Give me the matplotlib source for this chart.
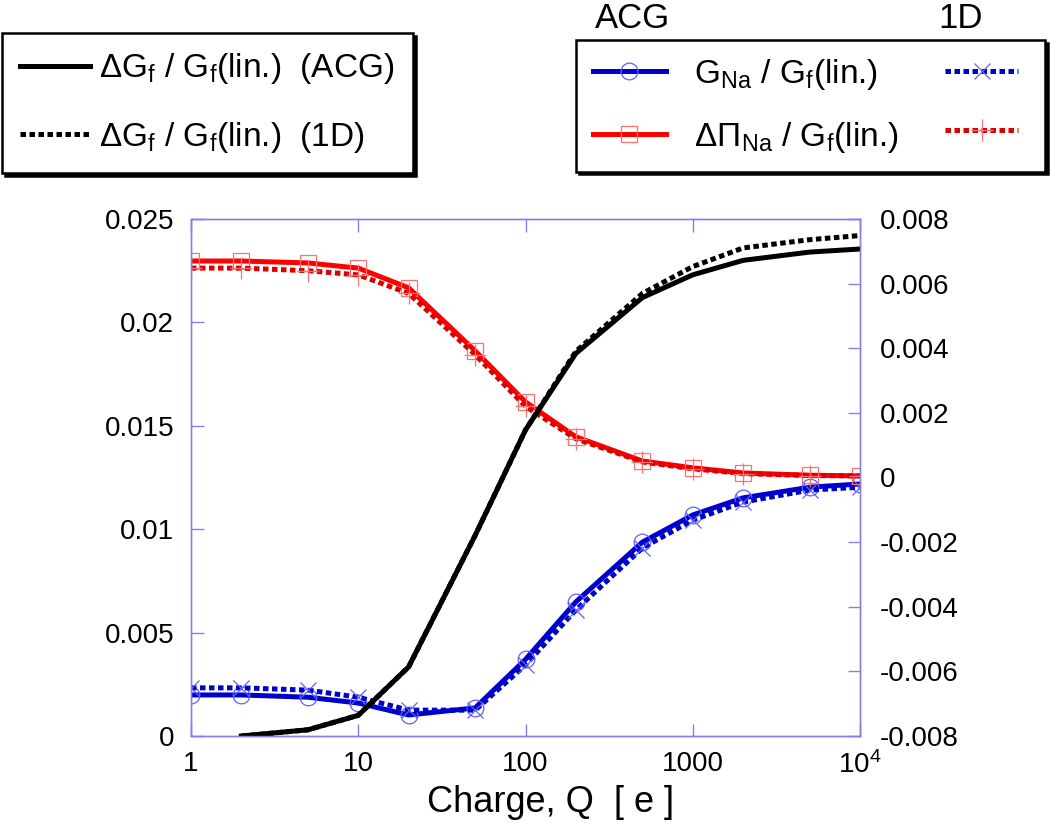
import numpy as np
import matplotlib
matplotlib.use("Agg")
import matplotlib.pyplot as plt
from matplotlib.ticker import NullLocator, FixedLocator

plt.rcParams['font.family'] = ['Liberation Sans', 'DejaVu Sans']
plt.rcParams['mathtext.fontset'] = 'custom'
plt.rcParams['mathtext.rm'] = 'Liberation Sans'
plt.rcParams['mathtext.it'] = 'Liberation Sans'
plt.rcParams['axes.unicode_minus'] = False

# charge values (x)
Q = [1, 2, 5, 10, 20, 50, 100, 200, 500, 1000, 2000, 5000, 10000]
Q_dG = [2, 5, 10, 20, 50, 100, 200, 500, 1000, 2000, 5000, 10000]

# left axis: dG_f / G_f(lin.)
dG_acg = [0.0, 0.0003, 0.001, 0.00334, 0.0097, 0.0148, 0.0185, 0.0212, 0.0223, 0.0230, 0.0234, 0.02355]
dG_1d = [0.0, 0.0003, 0.001, 0.00334, 0.0097, 0.0148, 0.0186, 0.0214, 0.0227, 0.0236, 0.0240, 0.0242]

# right axis: G_Na / G_f(lin.)
gna_acg = [-0.00673, -0.00673, -0.0068, -0.00698, -0.00735, -0.00713, -0.00563, -0.00385,
           -0.0020, -0.00116, -0.00063, -0.0003, -0.0002]
gna_1d = [-0.00651, -0.00651, -0.00658, -0.0068, -0.0072, -0.0072, -0.0058, -0.0041,
          -0.00218, -0.00132, -0.00076, -0.00039, -0.0003]

# right axis: dPi_Na / G_f(lin.)
pi_acg = [0.0067, 0.0067, 0.00664, 0.00648, 0.00587, 0.00392, 0.00234, 0.00126,
          0.00051, 0.0003, 0.00014, 0.00007, 0.00005]
pi_1d = [0.00648, 0.00648, 0.0064, 0.00627, 0.0057, 0.0038, 0.0022, 0.0012,
         0.00048, 0.00027, 0.00012, 0.00006, 0.00005]

xticks = [1, 10, 100, 1000, 10000]
xticklabels = ['1', '10', '100', '1000', '10$^4$']
yticks_l = [0, 0.005, 0.01, 0.015, 0.02, 0.025]
yticklabels_l = ['0', '0.005', '0.01', '0.015', '0.02', '0.025']
yticks_r = [-0.008, -0.006, -0.004, -0.002, 0, 0.002, 0.004, 0.006, 0.008]
yticklabels_r = ['-0.008', '-0.006', '-0.004', '-0.002', '0', '0.002', '0.004', '0.006', '0.008']

frame_c = '#8080f0'
blue = '#0000cc'
blue_m = '#6060ff'
red = '#ff0000'
red_d = '#dd0000'
red_m = '#ff7070'

fig = plt.figure(figsize=(10.5, 8.32), dpi=100)
ax = fig.add_axes([191/1050, 1-736/832, (860-191)/1050, (736-219)/832])
ax2 = ax.twinx()

lw = 3.6
dash = (0, (1.1, 0.7))

l_gna_acg, = ax2.plot(Q, gna_acg, color=blue, lw=lw, marker='o', ms=12, mfc='none',
                      mec=blue_m, mew=0.9)
l_gna_1d, = ax2.plot(Q, gna_1d, color=blue, lw=lw, ls=dash, marker='x', ms=12,
                     mec=blue_m, mew=0.9)
l_pi_acg, = ax2.plot(Q, pi_acg, color=red, lw=lw, marker='s', ms=12, mfc='none',
                     mec=red_m, mew=0.9)
l_pi_1d, = ax2.plot(Q, pi_1d, color=red_d, lw=lw, ls=dash, marker='+', ms=16,
                    mec=red_m, mew=0.9)

l_dg_1d, = ax.plot(Q_dG, dG_1d, color='black', lw=lw, ls=dash)
l_dg_acg, = ax.plot(Q_dG, dG_acg, color='black', lw=lw)

ax.set_zorder(ax2.get_zorder() + 1)
ax.patch.set_visible(False)

ax.set_xscale('log')
ax.set_xlim(1, 10000)
ax.xaxis.set_major_locator(FixedLocator(xticks))
ax.xaxis.set_minor_locator(NullLocator())
ax.set_xticklabels(xticklabels)
ax2.xaxis.set_minor_locator(NullLocator())
ax.set_ylim(0, 0.025)
ax.set_yticks(yticks_l)
ax.set_yticklabels(yticklabels_l)
ax2.set_ylim(-0.008, 0.008)
ax2.set_yticks(yticks_r)
ax2.set_yticklabels(yticklabels_r)

for a in (ax, ax2):
    for s in a.spines.values():
        s.set_color(frame_c)
        s.set_linewidth(1.0)

ax.tick_params(axis='x', which='both', direction='in', top=True, bottom=True,
               length=9, width=1, color=frame_c, labelsize=20, pad=11)
ax.tick_params(axis='y', direction='in', left=True, right=False, length=9, width=1,
               color=frame_c, labelsize=20, pad=12)
ax2.tick_params(axis='y', direction='in', right=True, left=False, length=9, width=1,
                color=frame_c, labelsize=20, pad=14)

ax.set_xlabel('Charge, Q  [ e ]', fontsize=26)
ax.xaxis.set_label_coords(0.538, -0.095)

shadow = {'color': 'black', 'alpha': 1.0}
leg1 = fig.legend([l_dg_acg, l_dg_1d],
                  [r'$\Delta$G$_f$ / G$_f$(lin.)  (ACG)', r'$\Delta$G$_f$ / G$_f$(lin.)  (1D)'],
                  loc='upper left', bbox_to_anchor=(2/1050, 1-33/832), fontsize=24,
                  frameon=True, fancybox=False, shadow=shadow, edgecolor='black',
                  framealpha=1, borderpad=0.55, borderaxespad=0, handlelength=2.1,
                  handletextpad=0.27, labelspacing=1.0)
leg1.get_frame().set_linewidth(1.8)

leg2 = fig.legend([l_gna_acg, l_pi_acg, l_gna_1d, l_pi_1d],
                  [r'  G$_{Na}$ / G$_f$(lin.)', r'  $\Delta\Pi_{Na}$ / G$_f$(lin.)', '', ''],
                  ncol=2, loc='upper right', bbox_to_anchor=(1045/1050, 1-40/832),
                  fontsize=24, frameon=True, fancybox=False, shadow=shadow,
                  edgecolor='black', framealpha=1, borderpad=0.5, borderaxespad=0,
                  handlelength=2.2, handletextpad=0.3, labelspacing=0.85,
                  columnspacing=1.4)
leg2.get_frame().set_linewidth(1.8)

fig.text(595/1050, 1-18/832, 'ACG', fontsize=25, va='center', ha='left')
fig.text(983/1050, 1-18/832, '1D', fontsize=25, va='center', ha='right')

fig.savefig('out.png', dpi=100)
plt.close(fig)
